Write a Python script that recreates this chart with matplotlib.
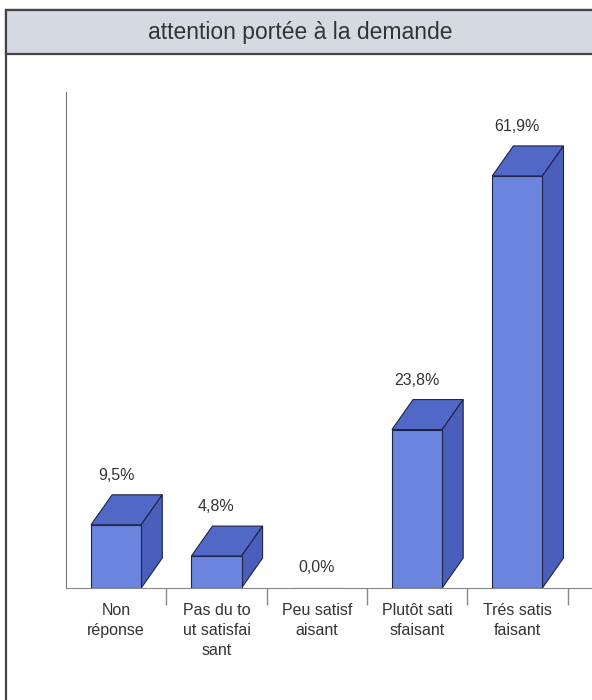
import matplotlib.pyplot as plt
from matplotlib.patches import Polygon, Rectangle
import numpy as np

# data
categories = ['Non\nréponse', 'Pas du to\nut satisfai\nsant', 'Peu satisf\naisant',
              'Plutôt sati\nsfaisant', 'Trés satis\nfaisant']
values = [9.5, 4.8, 0.0, 23.8, 61.9]
labels = ['9,5%', '4,8%', '0,0%', '23,8%', '61,9%']

plt.rcParams['font.family'] = ['Liberation Sans', 'DejaVu Sans']

front_col = '#6b84dd'
top_col = '#5268c6'
side_col = '#4a5fbb'
edge_col = '#1e2447'

fig = plt.figure(figsize=(5.92, 7.0), dpi=100)

# outer frame and title band (right and bottom edges run off the picture)
fig.patches.append(Rectangle((6 / 592, -0.1), 1.2, 1.1 - 10 / 700, transform=fig.transFigure,
                             facecolor='white', edgecolor='#444444', lw=1.6, zorder=0))
fig.patches.append(Rectangle((6 / 592, 1 - 54 / 700), 1.2, 44 / 700, transform=fig.transFigure,
                             facecolor='#d5d9e2', edgecolor='#444444', lw=1.6, zorder=1))
fig.text(0.508, 1 - 33 / 700, 'attention portée à la demande', ha='center', va='center',
         fontsize=16.5, color='#333333')

ax = fig.add_axes([66 / 592, 112 / 700, 525 / 592, 496 / 700])
ax.set_zorder(5)
ax.set_facecolor('none')

x = np.arange(len(values))
w = 0.5
dx, dy = 0.21, 4.5

ax.bar(x, values, width=w, color=front_col, edgecolor=edge_col, linewidth=0.8, zorder=3)
for xi, v, lab in zip(x, values, labels):
    if v > 0:
        top = Polygon([(xi - w / 2, v), (xi + w / 2, v), (xi + w / 2 + dx, v + dy),
                       (xi - w / 2 + dx, v + dy)], closed=True, facecolor=top_col,
                      edgecolor=edge_col, lw=0.8, zorder=2)
        side = Polygon([(xi + w / 2, 0), (xi + w / 2 + dx, dy), (xi + w / 2 + dx, v + dy),
                        (xi + w / 2, v)], closed=True, facecolor=side_col,
                       edgecolor=edge_col, lw=0.8, zorder=2)
        ax.add_patch(top)
        ax.add_patch(side)
        ly = v + dy + 1.8
    else:
        ly = 2.0
    ax.text(xi, ly, lab, ha='center', va='bottom', fontsize=11.5, color='#333333')

ax.set_xlim(-0.5, -0.5 + 525 / 100.3)
ax.set_ylim(0, 74.5)

ax.set_xticks(x)
ax.set_xticklabels(categories, fontsize=11.5, color='#333333', linespacing=1.4)
ax.set_xticks(np.arange(len(values)) + 0.5, minor=True)
ax.tick_params(axis='x', which='major', length=0, pad=11)
ax.tick_params(axis='x', which='minor', length=12, color='#888888', width=1, direction='out')
ax.set_yticks([])

for s in ['top', 'right']:
    ax.spines[s].set_visible(False)
ax.spines['left'].set_color('#777777')
ax.spines['bottom'].set_color('#888888')

fig.savefig('out.png', dpi=100)
